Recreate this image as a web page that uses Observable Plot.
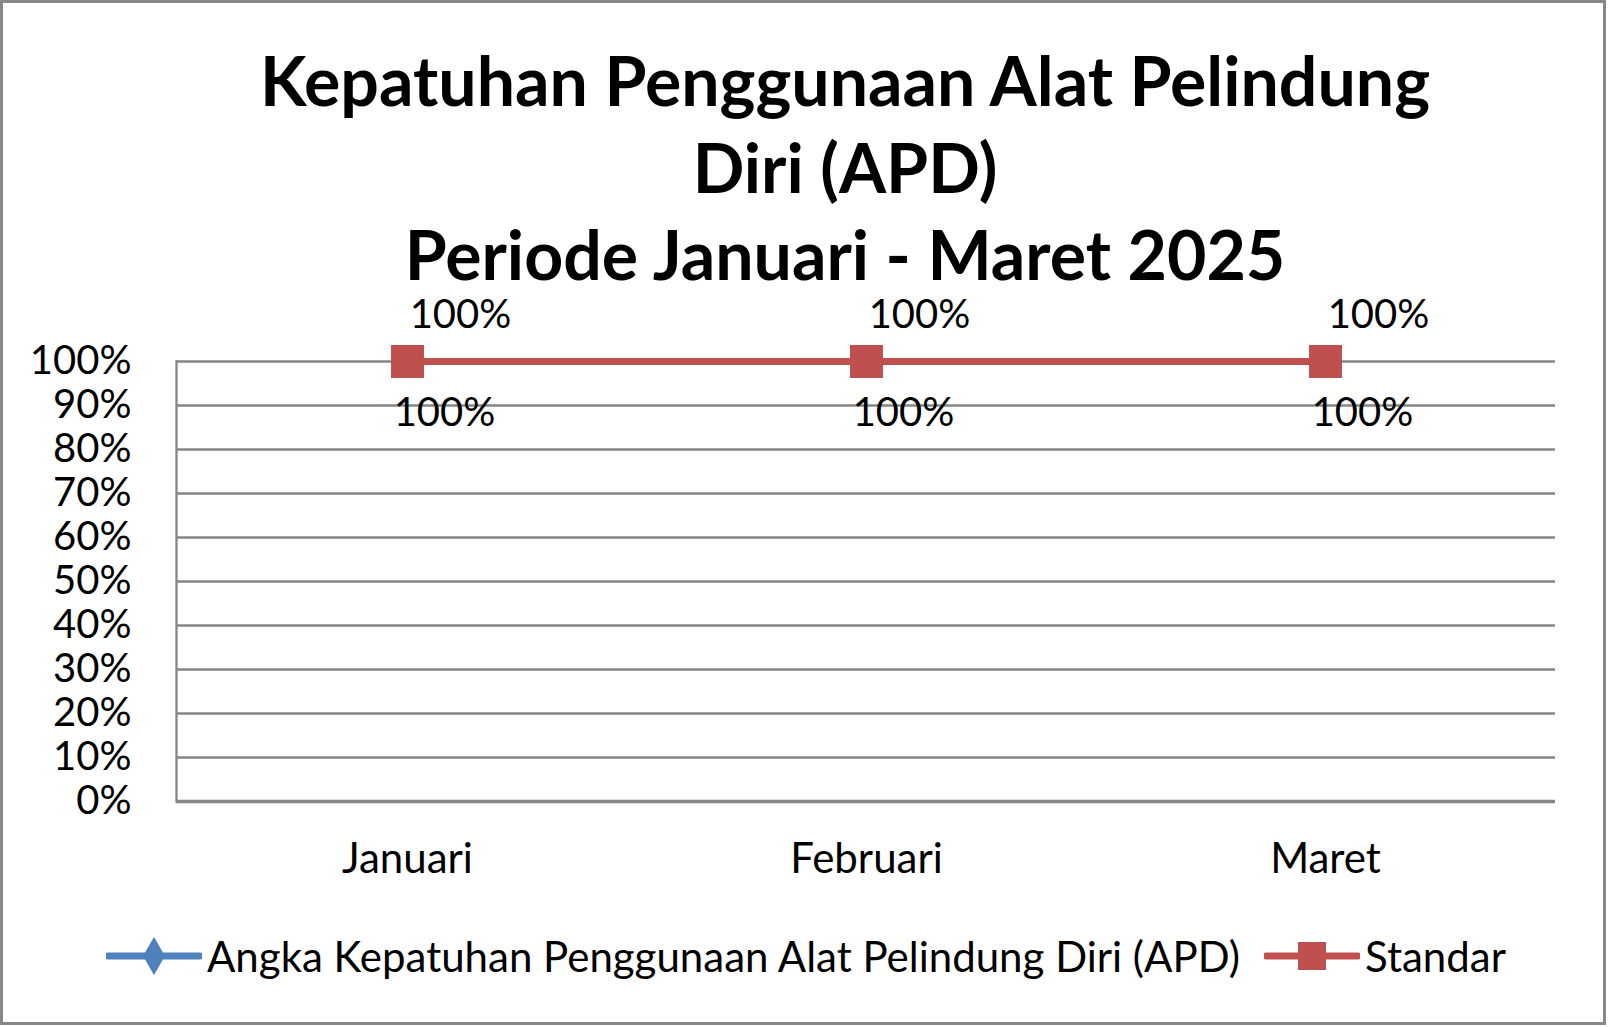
<!DOCTYPE html>
<html><head><meta charset="utf-8">
<script src="https://cdn.jsdelivr.net/npm/d3@7"></script>
<script src="https://cdn.jsdelivr.net/npm/@observablehq/plot@0.6"></script>
<style>
html,body{margin:0;padding:0;background:#fff;overflow:hidden;}
#wrap{position:relative;width:1608px;height:1027px;font-family:Lato, sans-serif;color:#000;}
#frame{position:absolute;left:0;top:0;width:1606px;height:1025px;border:3px solid #888;box-sizing:border-box;pointer-events:none;}
.tline{position:absolute;left:0;width:1690px;text-align:center;font-weight:700;font-size:68px;line-height:68px;height:68px;white-space:nowrap;}
#chart{position:absolute;left:0;top:290px;}
#legend{position:absolute;left:106px;top:932px;height:48px;display:flex;align-items:center;font-size:42px;white-space:nowrap;}
#legend .item{display:flex;align-items:center;}
#legend svg{display:block;}
</style>
</head><body>
<div id="wrap">
  <div id="title"></div>
  <div id="chart"></div>
  <div id="legend"></div>
  <div id="frame"></div>
</div>
<script>
const titleLines = ["Kepatuhan Penggunaan Alat Pelindung", "Diri (APD)", "Periode Januari - Maret 2025"];
const months = ["Januari", "Februari", "Maret"];
const kepatuhan = [1, 1, 1];
const standar = [1, 1, 1];
const yTicks = [0, 0.1, 0.2, 0.3, 0.4, 0.5, 0.6, 0.7, 0.8, 0.9, 1];
const seriesNames = ["Angka Kepatuhan Penggunaan Alat Pelindung Diri (APD)", "Standar"];
const seriesColors = ["#4F81BD", "#C0504D"];

d3.select("#title").selectAll("div").data(titleLines).join("div")
  .attr("class", "tline")
  .style("top", (d, i) => `${46 + i * 87}px`)
  .text(d => d);

const apdRows = months.map((m, i) => ({month: m, value: kepatuhan[i]}));
const stdRows = months.map((m, i) => ({month: m, value: standar[i]}));
const pct = d => `${Math.round(d * 100)}%`;

const chart = Plot.plot({
  width: 1608, height: 640,
  marginTop: 71, marginBottom: 129, marginLeft: 176, marginRight: 53,
  style: {fontFamily: "Lato, sans-serif", fontSize: "40px", color: "#000", background: "transparent", overflow: "visible"},
  x: {type: "point", domain: months, padding: 0.5, label: null},
  y: {domain: [0, 1], label: null},
  marks: [
    Plot.gridY(yTicks, {stroke: "#868686", strokeOpacity: 1, strokeWidth: 2.3}),
    Plot.frame({anchor: "left", stroke: "#868686", strokeOpacity: 1, strokeWidth: 2.3}),
    Plot.ruleY([0], {stroke: "#868686", strokeWidth: 3.5}),
    Plot.axisY({ticks: yTicks, tickFormat: pct, tickSize: 0, tickPadding: 45, fontSize: 40, fill: "#000", label: null}),
    Plot.axisX({tickSize: 0, tickPadding: 42, fontSize: 42, fill: "#000", label: null}),
    Plot.line(apdRows, {x: "month", y: "value", stroke: seriesColors[0], strokeWidth: 7}),
    Plot.dot(apdRows, {x: "month", y: "value", symbol: "diamond", fill: seriesColors[0], r: 9}),
    Plot.line(stdRows, {x: "month", y: "value", stroke: seriesColors[1], strokeWidth: 7}),
    Plot.dot(stdRows, {x: "month", y: "value", symbol: "square", fill: seriesColors[1], r: 18.6}),
    Plot.text(stdRows, {x: "month", y: "value", text: d => pct(d.value), dx: 53, dy: -46, fontSize: 40, fill: "#000"}),
    Plot.text(apdRows, {x: "month", y: "value", text: d => pct(d.value), dx: 37, dy: 52, fontSize: 40, fill: "#000"})
  ]
});
document.getElementById("chart").appendChild(chart);

// legend
const legend = d3.select("#legend");
const symbols = [d3.symbolDiamond, d3.symbolSquare];
const symSizes = [420, 784];
seriesNames.forEach((name, i) => {
  const item = legend.append("div").attr("class", "item").style("margin-right", i === 0 ? "24px" : "0px");
  const svg = item.append("svg").attr("width", 96).attr("height", 40);
  svg.append("line").attr("x1", 2).attr("x2", 94).attr("y1", 20).attr("y2", 20)
    .attr("stroke", seriesColors[i]).attr("stroke-width", 7).attr("stroke-linecap", "round");
  svg.append("path").attr("transform", "translate(48,20)")
    .attr("d", d3.symbol(symbols[i], symSizes[i])()).attr("fill", seriesColors[i]);
  item.append("span").style("margin-left", "5px").text(name);
});
</script>
</body></html>
